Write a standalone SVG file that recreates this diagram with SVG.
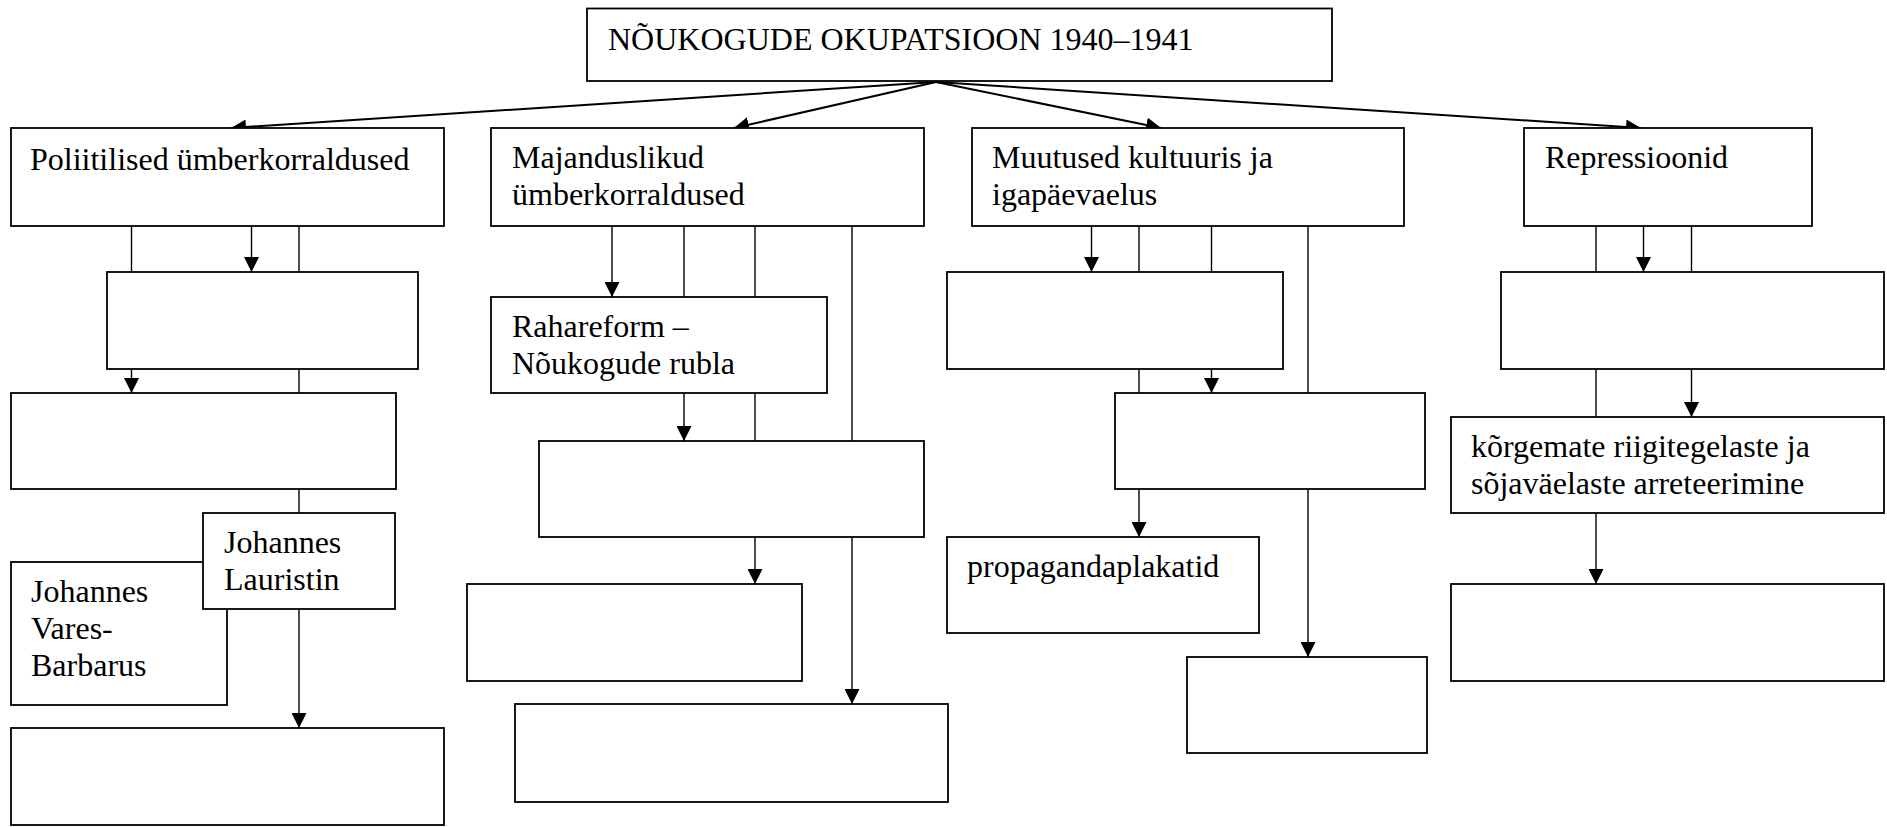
<svg xmlns="http://www.w3.org/2000/svg" width="1887" height="827" viewBox="0 0 1887 827">
<style>
.box{fill:#fff;stroke:#000;stroke-width:1.8}
.ln{stroke:#000;stroke-width:1.4;fill:none}
.top{stroke:#000;stroke-width:2;fill:none}
.ar{marker-end:url(#ah)}
text{font-family:"Liberation Serif","Times New Roman",serif;font-size:32px;fill:#000}
</style>
<defs>
<marker id="ah" markerUnits="userSpaceOnUse" markerWidth="15" markerHeight="15" viewBox="0 0 15 15" refX="15" refY="7.5" orient="auto">
<path d="M0,0 L15,7.5 L0,15 z" fill="#000"/>
</marker>
</defs>
<rect width="1887" height="827" fill="#fff"/>
<g id="connectors">
<line class="top ar" x1="936" y1="82" x2="231" y2="128"/>
<line class="top ar" x1="936" y1="82" x2="734" y2="128"/>
<line class="top ar" x1="936" y1="82" x2="1161" y2="128"/>
<line class="top ar" x1="936" y1="82" x2="1641" y2="128"/>
<line class="ln" x1="131.5" y1="226" x2="131.5" y2="272"/>
<line class="ln ar" x1="251.5" y1="226" x2="251.5" y2="272"/>
<line class="ln" x1="299" y1="226" x2="299" y2="272"/>
<line class="ln ar" x1="131.5" y1="369" x2="131.5" y2="393"/>
<line class="ln" x1="299" y1="369" x2="299" y2="393"/>
<line class="ln" x1="299" y1="489" x2="299" y2="513"/>
<line class="ln ar" x1="299" y1="609" x2="299" y2="728"/>
<line class="ln ar" x1="612" y1="226" x2="612" y2="297"/>
<line class="ln" x1="684" y1="226" x2="684" y2="297"/>
<line class="ln" x1="755" y1="226" x2="755" y2="297"/>
<line class="ln ar" x1="852" y1="226" x2="852" y2="704"/>
<line class="ln ar" x1="684" y1="393" x2="684" y2="441"/>
<line class="ln" x1="755" y1="393" x2="755" y2="441"/>
<line class="ln ar" x1="755" y1="537" x2="755" y2="584"/>
<line class="ln ar" x1="1091.5" y1="226" x2="1091.5" y2="272"/>
<line class="ln" x1="1139" y1="226" x2="1139" y2="272"/>
<line class="ln" x1="1211.5" y1="226" x2="1211.5" y2="272"/>
<line class="ln ar" x1="1308" y1="226" x2="1308" y2="657"/>
<line class="ln" x1="1139" y1="369" x2="1139" y2="393"/>
<line class="ln ar" x1="1211.5" y1="369" x2="1211.5" y2="393"/>
<line class="ln ar" x1="1139" y1="489" x2="1139" y2="537"/>
<line class="ln" x1="1596" y1="226" x2="1596" y2="272"/>
<line class="ln ar" x1="1643.5" y1="226" x2="1643.5" y2="272"/>
<line class="ln" x1="1691.5" y1="226" x2="1691.5" y2="272"/>
<line class="ln" x1="1596" y1="369" x2="1596" y2="417"/>
<line class="ln ar" x1="1691.5" y1="369" x2="1691.5" y2="417"/>
<line class="ln ar" x1="1596" y1="513" x2="1596" y2="584"/>
</g>
<g id="title"><rect class="box" x="587" y="8.5" width="745" height="72.5"/><text x="608" y="50">NÕUKOGUDE OKUPATSIOON 1940–1941</text></g>
<g id="poli1"><rect class="box" x="11" y="128" width="433" height="98"/><text x="30" y="170">Poliitilised ümberkorraldused</text></g>
<g id="maj1"><rect class="box" x="491" y="128" width="433" height="98"/><text x="512" y="168">Majanduslikud</text><text x="512" y="205">ümberkorraldused</text></g>
<g id="muut1"><rect class="box" x="972" y="128" width="432" height="98"/><text x="992" y="168">Muutused kultuuris ja</text><text x="992" y="205">igapäevaelus</text></g>
<g id="rep1"><rect class="box" x="1524" y="128" width="288" height="98"/><text x="1545" y="168">Repressioonid</text></g>
<g id="poli2"><rect class="box" x="107" y="272" width="311" height="97"/></g>
<g id="poli3"><rect class="box" x="11" y="393" width="385" height="96"/></g>
<g id="vares"><rect class="box" x="11" y="562" width="216" height="143"/><text x="31" y="602">Johannes</text><text x="31" y="639">Vares-</text><text x="31" y="676">Barbarus</text></g>
<g id="lauristin"><rect class="box" x="203" y="513" width="192" height="96"/><text x="224" y="553">Johannes</text><text x="224" y="590">Lauristin</text></g>
<g id="poli4"><rect class="box" x="11" y="728" width="433" height="97"/></g>
<g id="maj2"><rect class="box" x="491" y="297" width="336" height="96"/><text x="512" y="337">Rahareform –</text><text x="512" y="374">Nõukogude rubla</text></g>
<g id="maj3"><rect class="box" x="539" y="441" width="385" height="96"/></g>
<g id="maj4"><rect class="box" x="467" y="584" width="335" height="97"/></g>
<g id="maj5"><rect class="box" x="515" y="704" width="433" height="98"/></g>
<g id="muut2"><rect class="box" x="947" y="272" width="336" height="97"/></g>
<g id="muut3"><rect class="box" x="1115" y="393" width="310" height="96"/></g>
<g id="muut_prop"><rect class="box" x="947" y="537" width="312" height="96"/><text x="967" y="577">propagandaplakatid</text></g>
<g id="muut4"><rect class="box" x="1187" y="657" width="240" height="96"/></g>
<g id="rep2"><rect class="box" x="1501" y="272" width="383" height="97"/></g>
<g id="rep3"><rect class="box" x="1451" y="417" width="433" height="96"/><text x="1471" y="457">kõrgemate riigitegelaste ja</text><text x="1471" y="494">sõjaväelaste arreteerimine</text></g>
<g id="rep4"><rect class="box" x="1451" y="584" width="433" height="97"/></g>
</svg>
